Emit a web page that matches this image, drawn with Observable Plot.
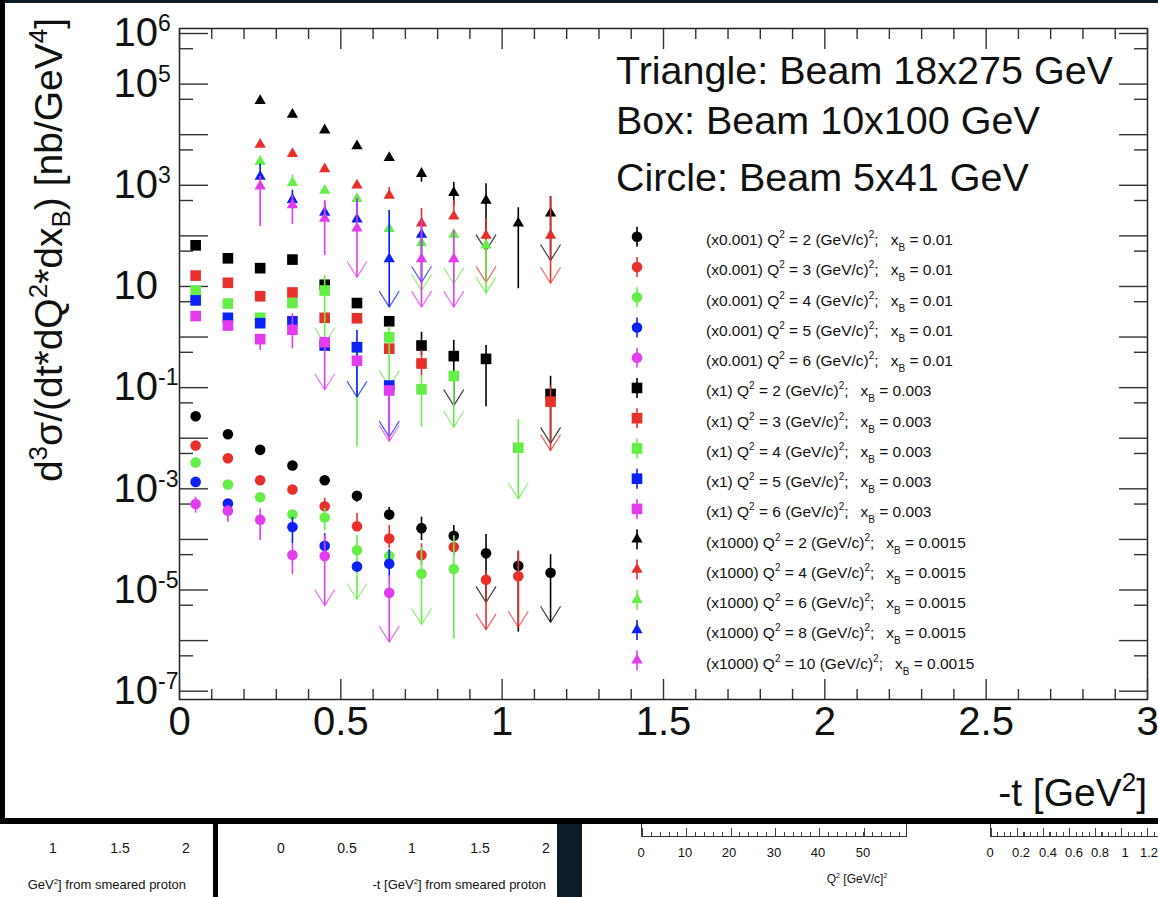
<!DOCTYPE html>
<html><head><meta charset="utf-8">
<script src="https://cdn.jsdelivr.net/npm/d3@7"></script>
<script src="https://cdn.jsdelivr.net/npm/@observablehq/plot@0.6"></script>
<style>
body{margin:0;background:#fff;}
#wrap{position:relative;width:1158px;height:897px;overflow:hidden;background:#fff;font-family:"Liberation Sans",Arial,Helvetica,sans-serif;}
#chart{position:absolute;left:0;top:0;}
.frag{position:absolute;font-size:14px;color:#111;white-space:nowrap;line-height:1;}
.c{transform:translateX(-50%);}
.r{transform:translateX(-100%);}
.bar{position:absolute;}
</style></head><body>
<div id="wrap">
  <div id="chart"></div>
  <!-- screenshot frame -->
  <div class="bar" style="left:0;top:0;width:1158px;height:3px;background:#0c1d29"></div>
  <div class="bar" style="left:0;top:0;width:5px;height:824px;background:#000"></div>
  <div class="bar" style="left:0;top:818px;width:1158px;height:6px;background:#000"></div>
  <!-- neighbouring slide panels below -->
  <div class="bar" style="left:213px;top:824px;width:5px;height:73px;background:#000"></div>
  <div class="bar" style="left:557px;top:824px;width:25px;height:73px;background:#0c1d29"></div>
  <div id="frags"></div>
</div>
<script>
// ---------- axis ticks ----------
const tMajor = [0, 0.5, 1, 1.5, 2, 2.5, 3];
const tMinor = [0.1,0.2,0.3,0.4,0.6,0.7,0.8,0.9,1.1,1.2,1.3,1.4,1.6,1.7,1.8,1.9,2.1,2.2,2.3,2.4,2.6,2.7,2.8,2.9];
const yMajor = [1e-7,1e-6,1e-5,1e-4,1e-3,1e-2,1e-1,1,10,1e2,1e3,1e4,1e5,1e6];
const yMinor = [5e-7,5e-6,5e-5,5e-4,5e-3,5e-2,5e-1,5,50,5e2,5e3,5e4,5e5];
const yLabeled = [1e6,1e5,1e3,10,1e-1,1e-3,1e-5,1e-7];

// ---------- series meta ----------
const seriesColors = ["#000000","#e8302a","#66ee48","#0a22f5","#e33cef"];
const circleQ2 = [2,3,4,5,6];     // Beam 5x41 GeV, xB = 0.01, scaled x0.001
const squareQ2 = [2,3,4,5,6];     // Beam 10x100 GeV, xB = 0.003, scaled x1
const triangleQ2 = [2,4,6,8,10];  // Beam 18x275 GeV, xB = 0.0015, scaled x1000

// rows: [-t, value, errLow, errHigh, arrowAtLow]
const circle_Q2_2 = [[0.05,2.72e-2],[0.15,1.20e-2],[0.25,5.9e-3],[0.35,2.89e-3],[0.45,1.48e-3],
  [0.55,7.3e-4,5.4e-4,7.3e-4],[0.65,3.1e-4,2.37e-4,4.27e-4],[0.75,1.67e-4,9.5e-5,2.75e-4],
  [0.85,1.18e-4,9.5e-5,1.88e-4],[0.95,5.3e-5,5.7e-6,1.25e-4,1],[1.05,3.0e-5,1.47e-6,5.85e-5],
  [1.15,2.19e-5,2.3e-6,5.0e-5,1]];
const circle_Q2_3 = [[0.05,7.2e-3],[0.15,4.0e-3],[0.25,1.48e-3],[0.35,9.7e-4],
  [0.45,4.5e-4,4.5e-4,6.5e-4],[0.55,1.82e-4,1.82e-4,3.25e-4],[0.65,1.04e-4,6.6e-5,1.88e-4],
  [0.75,4.9e-5,3.05e-5,8.2e-5],[0.85,7.1e-5,4.8e-5,1.15e-4],[0.95,1.6e-5,1.63e-6,2.43e-5,1],
  [1.05,1.87e-5,1.84e-6,5.85e-5,1]];
const circle_Q2_4 = [[0.05,3.3e-3],[0.15,1.22e-3],[0.25,6.8e-4],[0.35,3.1e-4],
  [0.45,2.7e-4,1.5e-4,4.1e-4],[0.55,6.1e-5,6.5e-6,1.2e-4,1],[0.65,4.7e-5],
  [0.75,2.1e-5,2.08e-6,7.0e-5,1],[0.85,2.6e-5,1.08e-6,1.19e-4]];
const circle_Q2_5 = [[0.05,1.37e-3],[0.15,5.1e-4],[0.35,1.75e-4,8.2e-5,2.75e-4],
  [0.45,7.5e-5,4.6e-5,1.29e-4],[0.55,2.9e-5],[0.65,3.3e-5,1.79e-5,6.3e-5]];
const circle_Q2_6 = [[0.05,5.0e-4,3.3e-4,6.8e-4],[0.15,3.7e-4,2.19e-4,4.6e-4],[0.25,2.44e-4,9.5e-5,4.0e-4],
  [0.35,4.9e-5,2.02e-5,8.2e-5],[0.45,4.7e-5,4.9e-6,1.19e-4,1],[0.65,8.8e-6,9.3e-7,1.93e-5,1]];

const square_Q2_2 = [[0.05,65],[0.15,36],[0.25,23],[0.35,34],[0.45,10.8],[0.55,4.7],[0.65,2.05],
  [0.75,0.68,0.43,1.24],[0.85,0.42,0.044,0.86,1],[0.95,0.37,0.042,0.68],[1.15,0.075,7.9e-3,0.168,1]];
const square_Q2_3 = [[0.05,16.4],[0.15,11.8],[0.25,6.4],[0.35,7.6],[0.45,2.4],[0.55,2.35],[0.65,0.59],
  [0.75,0.30,0.17,0.54],[1.15,0.053,5.7e-3,0.11,1]];
const square_Q2_4 = [[0.05,8.3],[0.15,4.6],[0.25,2.4],[0.35,4.7],[0.45,8.3,0.745,16.4,1],
  [0.55,0.63,6.6e-3,0.63],[0.65,0.99,0.105,1.6,1],[0.75,0.093,0.0165,0.174],
  [0.85,0.17,0.0165,0.17,1],[1.05,6.5e-3,6.35e-4,0.0234,1]];
const square_Q2_5 = [[0.05,5.3],[0.15,2.4],[0.25,1.88],[0.35,2.05],[0.45,0.68],
  [0.55,0.63,0.065,1.35,1],[0.65,0.11,0.0105,0.11,1]];
const square_Q2_6 = [[0.05,2.6],[0.15,1.69],[0.25,0.91,0.54,0.91],[0.35,1.39,0.585,2.9],
  [0.45,0.79,0.091,0.79,1],[0.55,0.34],[0.65,0.088,8.7e-3,0.088,1]];

const triangle_Q2_2 = [[0.25,4.7e4],[0.35,2.5e4],[0.45,1.23e4],[0.55,6.0e3],[0.65,3.5e3],
  [0.75,1.7e3,1.15e3,1.7e3],[0.85,710,398,1140],[0.95,500,51,1070,1],[1.05,178,9.0,359],[1.15,280,32.6,600,1]];
const triangle_Q2_4 = [[0.25,6.4e3],[0.35,4.2e3],[0.45,2.1e3],[0.55,1.0e3],[0.65,630,630,916],
  [0.75,178,178,348],[0.85,245,245,500],[0.95,102,12.1,220,1],[1.15,102,11.6,582,1]];
const triangle_Q2_6 = [[0.25,2.95e3],[0.35,1.12e3,1.12e3,1.6e3],[0.45,790],[0.55,540],
  [0.65,138,51,317],[0.75,72,8.3,72,1],[0.85,106,11.4,106,1],[0.95,65,7.4,65,1]];
const triangle_Q2_8 = [[0.25,1.49e3,1.49e3,2.6e3],[0.35,520,520,800],[0.45,290,290,460],[0.55,213,213,540],
  [0.65,35,3.9,317,1],[0.75,106,12.1,178,1]];
const triangle_Q2_10 = [[0.25,960,153,1490],[0.35,410,168,630],[0.45,220,41,500],
  [0.55,142,15.2,540,1],[0.75,35,3.9,200,1],[0.85,35,3.9,128,1]];

const circleRows = [circle_Q2_2, circle_Q2_3, circle_Q2_4, circle_Q2_5, circle_Q2_6];
const squareRows = [square_Q2_2, square_Q2_3, square_Q2_4, square_Q2_5, square_Q2_6];
const triangleRows = [triangle_Q2_2, triangle_Q2_4, triangle_Q2_6, triangle_Q2_8, triangle_Q2_10];

const groups = [
  {symbol: "circle", r: 5.3, rows: circleRows, q2: circleQ2, scale: "(x0.001)", xb: "0.01"},
  {symbol: "square", r: 6.0, rows: squareRows, q2: squareQ2, scale: "(x1)", xb: "0.003"},
  {symbol: "triangle", r: 4.2, rows: triangleRows, q2: triangleQ2, scale: "(x1000)", xb: "0.0015"}
];
const series = [];
for (const g of groups) g.rows.forEach((rows, i) => series.push({
  symbol: g.symbol, r: g.r, color: seriesColors[i], q2: g.q2[i], scale: g.scale, xb: g.xb,
  data: rows.map(([t, v, lo, hi, a]) => ({t, v, lo: lo ?? v, hi: hi ?? v, arrow: !!a}))
}));

const vArrow = {draw(ctx, size) { const r = Math.sqrt(size / Math.PI); ctx.moveTo(-r, -1.6 * r); ctx.lineTo(0, 0); ctx.lineTo(r, -1.6 * r); }};

const tickStroke = "#333";
const fmtY = d => { const k = Math.round(Math.log10(d)); return k === 1 ? "10" : `10^${k}`; };
const tk = {tickFormat: () => "", stroke: tickStroke, strokeWidth: 1.4, label: null};

const marks = [
  Plot.frame({stroke: "#222", strokeWidth: 1.5}),
  Plot.axisX(tMajor, {anchor: "bottom", tickSize: -20, ...tk}),
  Plot.axisX(tMinor, {anchor: "bottom", tickSize: -10, ...tk}),
  Plot.axisX(tMajor, {anchor: "top", tickSize: -20, ...tk}),
  Plot.axisX(tMinor, {anchor: "top", tickSize: -10, ...tk}),
  Plot.axisX(tMajor, {anchor: "bottom", tickSize: 0, tickPadding: 7, fontSize: 40, fill: "#111", label: null, tickFormat: d => String(d)}),
  Plot.axisY(yMajor, {anchor: "left", tickSize: -29, ...tk}),
  Plot.axisY(yMinor, {anchor: "left", tickSize: -14, ...tk}),
  Plot.axisY(yMajor, {anchor: "right", tickSize: -29, ...tk}),
  Plot.axisY(yMinor, {anchor: "right", tickSize: -14, ...tk}),
  Plot.axisY(yLabeled, {anchor: "left", tickSize: 0, tickPadding: 66, textAnchor: "start", fontSize: 40, fill: "#111", label: null, tickFormat: fmtY})
];
for (const s of series) {
  marks.push(Plot.ruleX(s.data, {x: "t", y1: "lo", y2: "hi", stroke: s.color, strokeWidth: 1.6}));
  marks.push(Plot.dot(s.data.filter(d => d.arrow), {x: "t", y: "lo", symbol: vArrow, r: 10, fill: "none", stroke: s.color, strokeWidth: 1.2, strokeOpacity: 0.75}));
  marks.push(Plot.dot(s.data, {x: "t", y: "v", symbol: s.symbol, r: s.r, fill: s.color, stroke: "none"}));
}

const chart = Plot.plot({
  width: 1158, height: 822,
  marginLeft: 179, marginRight: 11, marginTop: 28, marginBottom: 123,
  style: {fontFamily: '"Liberation Sans", Arial, Helvetica, sans-serif', background: "white", color: "#111"},
  x: {domain: [0, 3], label: null},
  y: {type: "log", domain: [6.85e-8, 1.256e6], label: null},
  marks
});
document.getElementById("chart").appendChild(chart);

// ---------- rich text helpers ----------
function rich(sel, parts, small, up, down) {
  let shift = 0;
  for (const [s, k, dx] of parts) {
    const target = k === 1 ? -up : k === -1 ? down : 0;
    const ts = sel.append("tspan").text(s).attr("dy", target - shift);
    if (k) ts.attr("font-size", small);
    if (dx) ts.attr("dx", dx);
    shift = target;
  }
}
const svg = d3.select(chart);

// y tick labels with superscripts
svg.selectAll('g[aria-label="y-axis tick label"] text').each(function() {
  const m = /^10\^(-?\d+)$/.exec(this.textContent);
  if (!m) return;
  const el = d3.select(this);
  el.text(null);
  el.append("tspan").text("10");
  el.append("tspan").attr("dy", -15).attr("font-size", 23).text(m[1]);
});

const ff = '"Liberation Sans", Arial, Helvetica, sans-serif';
// y title
const yt = svg.append("text").attr("transform", "translate(62,250) rotate(-90)")
  .attr("text-anchor", "middle").attr("font-size", 39).attr("font-family", ff).attr("fill", "#111");
rich(yt, [["d"],["3",1],["\u03c3/(dt*dQ"],["2",1],["*dx"],["B",-1],[") [nb/GeV"],["4",1],["]"]], 26, 15, 8);
// x title
const xt = svg.append("text").attr("x", 1147).attr("y", 806).attr("text-anchor", "end")
  .attr("font-size", 39).attr("font-family", ff).attr("fill", "#111");
rich(xt, [["-t [GeV"],["2",1],["]"]], 26, 15, 8);

// beam captions
const beamLines = ["Triangle: Beam 18x275 GeV", "Box: Beam 10x100 GeV", "Circle: Beam 5x41 GeV"];
const beamY = [84, 134, 191];
beamLines.forEach((s, i) => svg.append("text").attr("x", 616).attr("y", beamY[i]).attr("text-anchor", "start")
  .attr("font-size", 39.5).attr("font-family", ff).attr("fill", "#111").text(s));

// legend
const leg = svg.append("g").attr("font-family", ff).attr("fill", "#111");
series.forEach((s, i) => {
  const y = 236.7 + 30.25 * i;
  const g = leg.append("g").attr("transform", `translate(637,${y})`);
  g.append("line").attr("y1", -10).attr("y2", 10).attr("stroke", s.color).attr("stroke-width", 1.6);
  const sym = s.symbol === "circle" ? d3.symbolCircle : s.symbol === "square" ? d3.symbolSquare : d3.symbolTriangle;
  g.append("path").attr("d", d3.symbol(sym, s.r * s.r * Math.PI)()).attr("fill", s.color);
  const t = leg.append("text").attr("x", 706).attr("y", y + 8.3).attr("font-size", 15.5).attr("text-anchor", "start");
  rich(t, [[`${s.scale} Q`],["2",1],[` = ${s.q2} (GeV/c)`],["2",1],[";"],["x",0,12],["B",-1],[` = ${s.xb}`]], 10, 7, 6);
});

// ---------- fragments of neighbouring panels ----------
const frags = document.getElementById("frags");
function addText(txt, x, y, cls, size) {
  const d = document.createElement("div");
  d.className = "frag " + (cls || "");
  d.style.left = x + "px"; d.style.top = y + "px";
  if (size) d.style.fontSize = size + "px";
  d.innerHTML = txt;
  frags.appendChild(d);
}
const p1Labels = ["1", "1.5", "2"], p1X = [53, 120, 186];
p1Labels.forEach((s, i) => addText(s, p1X[i], 841, "c"));
addText('GeV<sup style="font-size:8px">2</sup>] from smeared proton', 186, 878, "r", 13);
const p2Labels = ["0", "0.5", "1", "1.5", "2"], p2X = [281, 347, 412, 480, 546];
p2Labels.forEach((s, i) => addText(s, p2X[i], 841, "c"));
addText('-t [GeV<sup style="font-size:8px">2</sup>] from smeared proton', 546, 878, "r", 13);
const p3Labels = ["0", "10", "20", "30", "40", "50"], p3X = [641, 685, 729, 774, 818, 863];
p3Labels.forEach((s, i) => addText(s, p3X[i], 846, "c", 13));
addText('Q<sup style="font-size:7px">2</sup> [GeV/c]<sup style="font-size:7px">2</sup>', 857, 872, "c", 12);
const p4Labels = ["0", "0.2", "0.4", "0.6", "0.8", "1", "1.2"], p4X = [990, 1021, 1048, 1074, 1100, 1125, 1149];
p4Labels.forEach((s, i) => addText(s, p4X[i], 846, "c", 13));
const ax3 = document.createElement("div");
ax3.style.cssText = "position:absolute;left:641px;top:824px;width:264px;height:12px;border-left:1px solid #333;border-right:1px solid #333;border-bottom:1px solid #333;background:repeating-linear-gradient(to right,#444 0 1px,transparent 1px 8.86px) bottom/100% 4px no-repeat,repeating-linear-gradient(to right,#444 0 1px,transparent 1px 44.3px) bottom/100% 8px no-repeat;";
frags.appendChild(ax3);
const ax4 = document.createElement("div");
ax4.style.cssText = "position:absolute;left:990px;top:824px;width:170px;height:12px;border-left:1px solid #333;border-bottom:1px solid #333;background:repeating-linear-gradient(to right,#444 0 1px,transparent 1px 6.5px) bottom/100% 4px no-repeat,repeating-linear-gradient(to right,#444 0 1px,transparent 1px 26px) bottom/100% 8px no-repeat;";
frags.appendChild(ax4);
</script>
</body></html>
